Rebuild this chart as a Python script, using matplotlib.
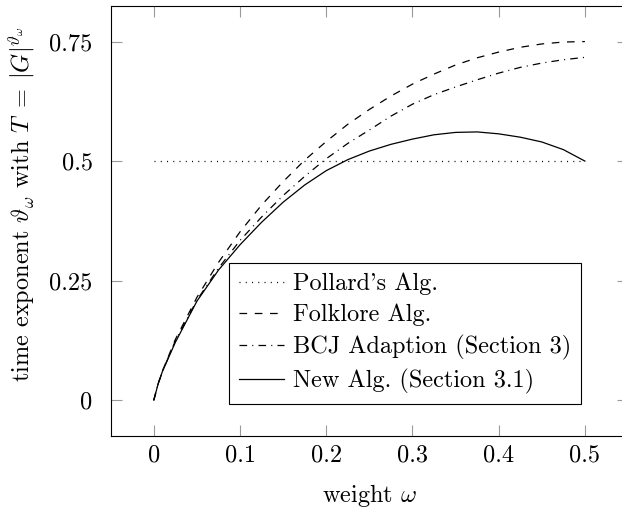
import matplotlib
matplotlib.use("Agg")
import matplotlib.pyplot as plt

plt.rcParams["font.family"] = "cmr10"
plt.rcParams["mathtext.fontset"] = "cm"
plt.rcParams["axes.formatter.use_mathtext"] = True
plt.rcParams["lines.scale_dashes"] = False

# weight grid (omega) and time exponents of each algorithm
omega = [0.0, 0.005, 0.01, 0.025, 0.05, 0.075, 0.1, 0.125, 0.15, 0.175, 0.2,
         0.225, 0.25, 0.275, 0.3, 0.325, 0.35, 0.375, 0.4, 0.425, 0.45,
         0.475, 0.5]

pollard_omega = [0.0, 0.5]
pollard = [0.5, 0.5]

folklore = [0.0, 0.034, 0.061, 0.127, 0.215, 0.288, 0.352, 0.408, 0.457,
            0.502, 0.541, 0.577, 0.608, 0.636, 0.661, 0.682, 0.701, 0.716,
            0.728, 0.738, 0.745, 0.749, 0.750]

bcj = [0.0, 0.034, 0.060, 0.124, 0.209, 0.276, 0.334, 0.383, 0.428, 0.468,
       0.505, 0.537, 0.565, 0.594, 0.619, 0.639, 0.655, 0.670, 0.684, 0.696,
       0.705, 0.712, 0.717]

new_alg = [0.0, 0.034, 0.060, 0.121, 0.207, 0.272, 0.325, 0.372, 0.414,
           0.450, 0.480, 0.503, 0.521, 0.535, 0.546, 0.555, 0.560, 0.561,
           0.557, 0.550, 0.540, 0.524, 0.500]

labels = ["Pollard's Alg.", "Folklore Alg.", "BCJ Adaption (Section 3)",
          "New Alg. (Section 3.1)"]

xticks = [0, 0.1, 0.2, 0.3, 0.4, 0.5]
xtick_labels = ["0", "0.1", "0.2", "0.3", "0.4", "0.5"]
yticks = [0, 0.25, 0.5, 0.75]
ytick_labels = ["0", "0.25", "0.5", "0.75"]

W, H = 622, 508
fig = plt.figure(figsize=(W / 100, H / 100), dpi=100)
left, right, top, bottom = 110.7, 628.0, 5.7, 436.0
ax = fig.add_axes([left / W, (H - bottom) / H, (right - left) / W,
                   (bottom - top) / H])

lw = 0.9
ax.plot(pollard_omega, pollard, color="black", lw=lw,
        linestyle=(0, (0.75, 3.75)), label=labels[0])
ax.plot(omega, folklore, color="black", lw=lw,
        linestyle=(0, (5.5, 5.5)), label=labels[1])
ax.plot(omega, bcj, color="black", lw=lw,
        linestyle=(0, (5.5, 3.7, 0.75, 3.7)), label=labels[2])
ax.plot(omega, new_alg, color="black", lw=lw, linestyle="-",
        label=labels[3])

ax.set_xlim(-0.05, 0.55)
ax.set_ylim(-0.075, 0.825)
ax.set_xticks(xticks)
ax.set_xticklabels(xtick_labels)
ax.set_yticks(yticks)
ax.set_yticklabels(ytick_labels)

fs = 17.5
ax.tick_params(direction="in", length=7.9, width=0.8, color="#9a9a9a",
               top=True, right=True, labelsize=fs)
ax.tick_params(axis="x", pad=6)
ax.tick_params(axis="y", pad=13)
for s in ax.spines.values():
    s.set_linewidth(0.8)
    s.set_color("black")

ax.set_xlabel(r"weight $\omega$", fontsize=fs)
ax.xaxis.set_label_coords(0.5, -0.106)
ax.set_ylabel(r"time exponent $\vartheta_\omega$ with $T\;=\;|G|^{\vartheta_\omega}$",
              fontsize=fs)
ax.yaxis.set_label_coords(-0.142, 0.54)

leg = ax.legend(loc="upper left", bbox_to_anchor=(229 / W, 1 - 263 / H),
                bbox_transform=fig.transFigure, borderaxespad=0,
                fontsize=fs, frameon=True, fancybox=False, framealpha=1,
                edgecolor="black", handlelength=1.85, handletextpad=0.37,
                labelspacing=0.36, borderpad=0.4)
leg.get_frame().set_linewidth(0.8)

fig.savefig("out.png", dpi=100)
